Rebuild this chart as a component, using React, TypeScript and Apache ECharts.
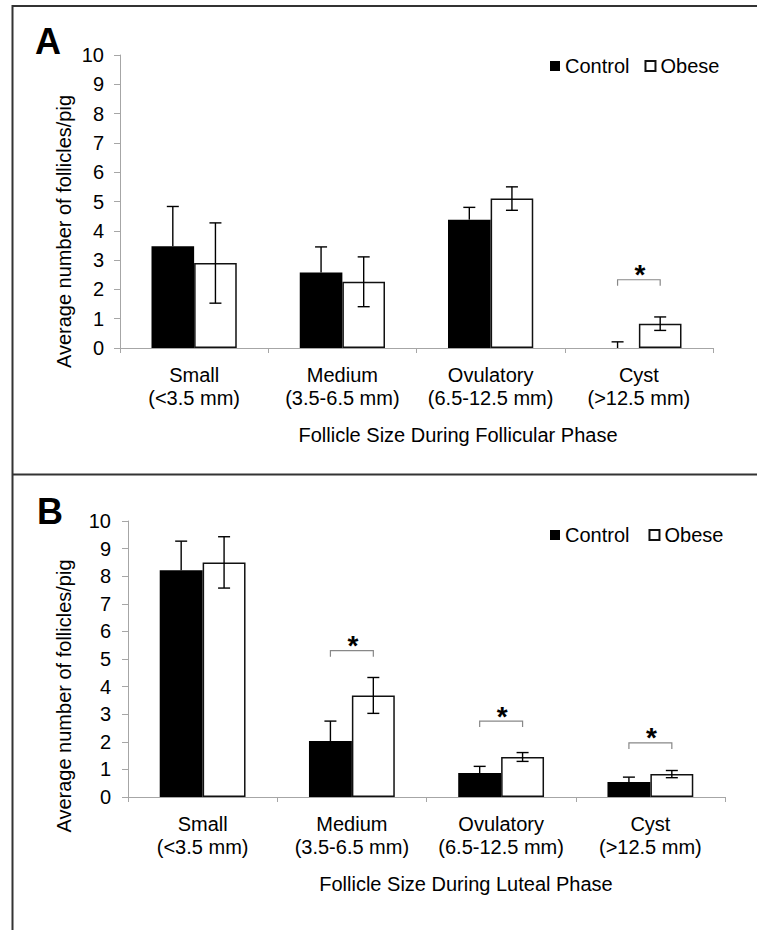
import React, { useEffect, useRef } from "react";
import * as echarts from "echarts";

const categories = [
  "Small\n(<3.5 mm)",
  "Medium\n(3.5-6.5 mm)",
  "Ovulatory\n(6.5-12.5 mm)",
  "Cyst\n(>12.5 mm)",
];
const seriesNames = ["Control", "Obese"];

const follicularControl = [3.47, 2.58, 4.38, 0];
const follicularControlErr = [1.36, 0.87, 0.42, 0.21];
const follicularObese = [2.9, 2.26, 5.1, 0.83];
const follicularObeseErr = [1.37, 0.85, 0.4, 0.23];
const follicularSigIdx = [3];
const follicularSigLevel = [2.33];

const lutealControl = [8.22, 2.03, 0.87, 0.54];
const lutealControlErr = [1.05, 0.72, 0.24, 0.18];
const lutealObese = [8.5, 3.68, 1.45, 0.83];
const lutealObeseErr = [0.93, 0.65, 0.16, 0.13];
const lutealSigIdx = [1, 2, 3];
const lutealSigLevel = [5.3, 2.75, 1.96];

const yTicks = { min: 0, max: 10, interval: 1 };

const FONT = "Liberation Sans, Arial, Helvetica, sans-serif";
const BAR_OFFSET = 0.14375; // fraction of band width from category centre to bar centre

function errRender(params: any, api: any) {
  const idx = api.value(0);
  const v = api.value(1);
  const e = api.value(2);
  const side = api.value(3);
  const both = api.value(4);
  const band = api.size([1, 0])[0];
  const base = api.coord([idx, v]);
  const x = base[0] + side * band * BAR_OFFSET;
  const yTop = api.coord([idx, v + e])[1];
  const yBot = both ? api.coord([idx, v - e])[1] : base[1];
  const st = { stroke: "#000", lineWidth: 1.4 };
  const children: any[] = [
    { type: "line", shape: { x1: x, y1: yTop, x2: x, y2: yBot }, style: st },
    { type: "line", shape: { x1: x - 6, y1: yTop, x2: x + 6, y2: yTop }, style: st },
  ];
  if (both) {
    children.push({ type: "line", shape: { x1: x - 6, y1: yBot, x2: x + 6, y2: yBot }, style: st });
  }
  return { type: "group", children };
}

function sigRender(params: any, api: any) {
  const idx = api.value(0);
  const lvl = api.value(1);
  const band = api.size([1, 0])[0];
  const c = api.coord([idx, lvl]);
  const off = band * BAR_OFFSET;
  return {
    type: "group",
    children: [
      {
        type: "polyline",
        shape: {
          points: [
            [c[0] - off, c[1] + 6],
            [c[0] - off, c[1]],
            [c[0] + off, c[1]],
            [c[0] + off, c[1] + 6],
          ],
        },
        style: { stroke: "#888", lineWidth: 1.2, fill: "none" },
      },
      {
        type: "text",
        x: c[0] + 1,
        y: c[1] - 5,
        style: {
          text: "*",
          fontSize: 28,
          fontWeight: "bold",
          fontFamily: FONT,
          fill: "#000",
          align: "center",
          verticalAlign: "middle",
        },
      },
    ],
  };
}

function buildPanel(
  gi: number,
  control: number[],
  controlErr: number[],
  obese: number[],
  obeseErr: number[],
  sigIdx: number[],
  sigLevel: number[]
) {
  const common = { xAxisIndex: gi, yAxisIndex: gi };
  return [
    {
      ...common,
      name: seriesNames[0],
      type: "bar",
      data: control,
      barGap: "0%",
      barCategoryGap: "42.5%",
      itemStyle: { color: "#000", borderWidth: 0 },
    },
    {
      ...common,
      name: seriesNames[1],
      type: "bar",
      data: obese,
      barGap: "0%",
      barCategoryGap: "42.5%",
      itemStyle: { color: "#fff", borderColor: "#111", borderWidth: 1.5 },
    },
    {
      ...common,
      type: "custom",
      z: 5,
      renderItem: errRender,
      data: [
        ...control.map((v, i) => [i, v, controlErr[i], -1, 0]),
        ...obese.map((v, i) => [i, v, obeseErr[i], 1, 1]),
      ],
    },
    {
      ...common,
      type: "custom",
      z: 5,
      renderItem: sigRender,
      data: sigIdx.map((i, k) => [i, sigLevel[k]]),
    },
  ];
}

function axisPair(margin: number) {
  return {
    x: {
      type: "category",
      data: categories,
      axisLine: { lineStyle: { color: "#a6a6a6", width: 1 } },
      axisTick: { show: true, length: 5, lineStyle: { color: "#a6a6a6" } },
      axisLabel: {
        interval: 0,
        fontSize: 20,
        lineHeight: 23,
        color: "#000",
        fontFamily: FONT,
        margin: 15,
      },
    },
    y: {
      type: "value",
      min: yTicks.min,
      max: yTicks.max,
      interval: yTicks.interval,
      axisLine: { show: true, lineStyle: { color: "#a6a6a6", width: 1 } },
      axisTick: { show: true, length: 6, lineStyle: { color: "#a6a6a6" } },
      splitLine: { show: false },
      axisLabel: { fontSize: 20, color: "#000", fontFamily: FONT, margin },
    },
  };
}

export default function App() {
  const ref = useRef<HTMLDivElement>(null);
  useEffect(() => {
    if (!ref.current) return;
    const chart = echarts.init(ref.current, null, { renderer: "svg" });
    const a = axisPair(16);
    const b = axisPair(17);
    const text = (t: string, x: number, y: number, extra: any = {}) => ({
      type: "text",
      x,
      y,
      ...extra,
      style: {
        text: t,
        fontSize: 20,
        fontFamily: FONT,
        fill: "#000",
        align: "center",
        verticalAlign: "middle",
        ...(extra.style || {}),
      },
    });
    const border = { stroke: "#333", lineWidth: 2 };
    const legendBase = {
      data: seriesNames,
      left: 550,
      padding: 0,
      icon: "rect",
      itemWidth: 10,
      itemHeight: 10,
      textStyle: { fontSize: 20, color: "#000", fontFamily: FONT, padding: [4, 0, 0, 0] },
    };
    chart.setOption({
      animation: false,
      backgroundColor: "#fff",
      textStyle: { fontFamily: FONT },
      grid: [
        { left: 120, top: 55, width: 593, height: 293, containLabel: false },
        { left: 128, top: 521, width: 597, height: 276, containLabel: false },
      ],
      xAxis: [
        { ...a.x, gridIndex: 0 },
        { ...b.x, gridIndex: 1 },
      ],
      yAxis: [
        { ...a.y, gridIndex: 0 },
        { ...b.y, gridIndex: 1 },
      ],
      legend: [
        { ...legendBase, top: 56, itemGap: 15 },
        { ...legendBase, top: 525, itemGap: 19 },
      ],
      graphic: [
        { type: "line", shape: { x1: 12, y1: 6, x2: 757, y2: 6 }, style: border },
        { type: "line", shape: { x1: 12.5, y1: 5, x2: 12.5, y2: 930 }, style: border },
        { type: "line", shape: { x1: 12, y1: 474.5, x2: 757, y2: 474.5 }, style: border },
        text("A", 35, 41, { style: { fontSize: 36, fontWeight: "bold", align: "left" } }),
        text("B", 37, 511, { style: { fontSize: 36, fontWeight: "bold", align: "left" } }),
        text("Average number of follicles/pig", 63.5, 231.5, { rotation: Math.PI / 2 }),
        text("Average number of follicles/pig", 63.5, 696, { rotation: Math.PI / 2 }),
        text("Follicle Size During Follicular Phase", 458, 435),
        text("Follicle Size During Luteal Phase", 466, 884),
      ],
      series: [
        ...buildPanel(0, follicularControl, follicularControlErr, follicularObese, follicularObeseErr, follicularSigIdx, follicularSigLevel),
        ...buildPanel(1, lutealControl, lutealControlErr, lutealObese, lutealObeseErr, lutealSigIdx, lutealSigLevel),
      ],
    });
    return () => chart.dispose();
  }, []);
  return (
    <div
      ref={ref}
      style={{ position: "absolute", left: 0, top: 0, width: 757, height: 930 }}
    />
  );
}
